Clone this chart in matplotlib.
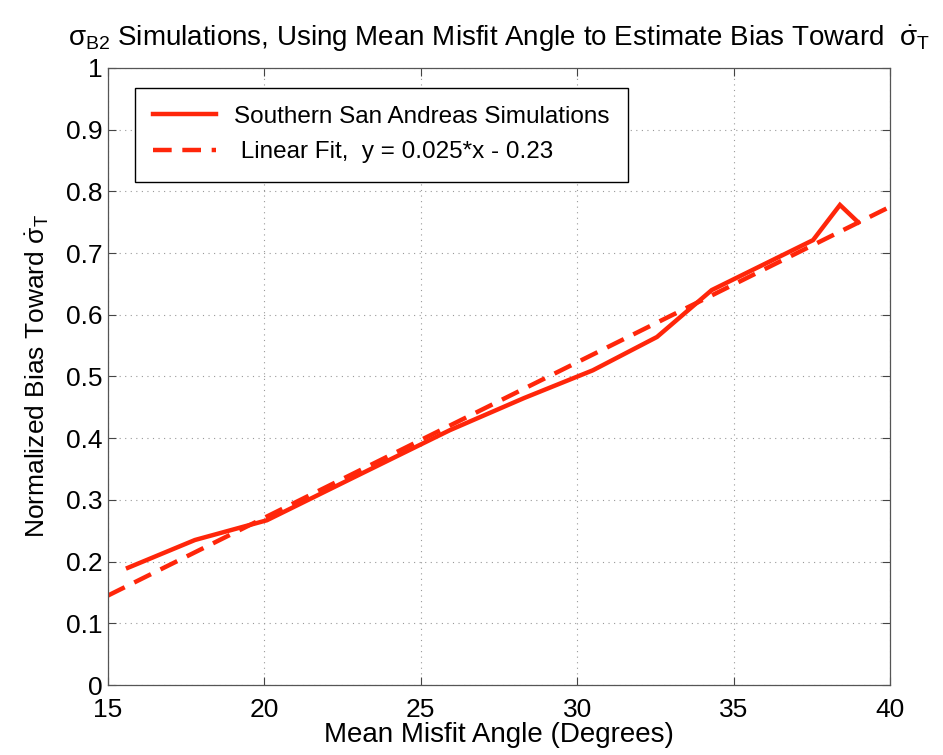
import matplotlib
matplotlib.use("Agg")
import matplotlib.pyplot as plt

plt.rcParams['font.family'] = ['Liberation Sans', 'DejaVu Sans']
plt.rcParams['mathtext.fontset'] = 'custom'
plt.rcParams['mathtext.rm'] = 'Liberation Sans'
plt.rcParams['mathtext.it'] = 'Liberation Sans'
plt.rcParams['mathtext.bf'] = 'Liberation Sans'

# simulation curve
sim_x = [15.64, 17.78, 20.08, 23.0, 25.93, 28.3, 30.5, 32.55, 34.3, 37.54, 38.4, 38.98]
sim_y = [0.190, 0.235, 0.267, 0.340, 0.413, 0.465, 0.510, 0.564, 0.640, 0.721, 0.778, 0.750]

# linear fit end points
fit_x = [15, 40]
fit_y = [0.145, 0.775]

red = '#ff260a'

fig = plt.figure(figsize=(9.43, 7.55), dpi=100)
ax = fig.add_axes([0.1145, 0.0927, 0.8293, 0.8173])

ax.plot(sim_x, sim_y, color=red, lw=3.2, solid_joinstyle='miter',
        label='Southern San Andreas Simulations')
ax.plot(fit_x, fit_y, color=red, lw=3.2, ls=(0, (4.2, 2.4)),
        label=' Linear Fit,  y = 0.025*x - 0.23')

ax.set_xlim(15, 40)
ax.set_ylim(0, 1)
ax.set_xticks([15, 20, 25, 30, 35, 40])
ax.set_yticks([0, 0.1, 0.2, 0.3, 0.4, 0.5, 0.6, 0.7, 0.8, 0.9, 1])
ax.set_yticklabels(['0', '0.1', '0.2', '0.3', '0.4', '0.5', '0.6', '0.7', '0.8', '0.9', '1'])
ax.grid(True, ls=(0, (1, 4)), color='#999999', lw=0.8)
ax.tick_params(direction='in', length=6, width=0.8, labelsize=19,
               top=True, right=True, pad=4, colors='#444444', labelcolor='black')
ax.tick_params(axis='x', pad=9)
for s in ax.spines.values():
    s.set_linewidth(0.9)
    s.set_color('#555555')

ax.set_xlabel('Mean Misfit Angle (Degrees)', fontsize=20, labelpad=0)
ax.set_ylabel(r'Normalized Bias Toward $\dot{\sigma}_T$', fontsize=19, labelpad=11)
ax.set_title(r'$\sigma_{B2}$ Simulations, Using Mean Misfit Angle to Estimate Bias Toward  $\dot{\sigma}_T$',
             fontsize=20, pad=16)

leg = ax.legend(loc='upper left', bbox_to_anchor=(0.034, 0.968), fontsize=17.5,
                fancybox=False, framealpha=1, edgecolor='black',
                handlelength=2.6, handletextpad=0.75, borderpad=0.75,
                labelspacing=0.55, borderaxespad=0)
leg.get_frame().set_linewidth(1.0)

fig.savefig('out.png', dpi=100, facecolor='white')
